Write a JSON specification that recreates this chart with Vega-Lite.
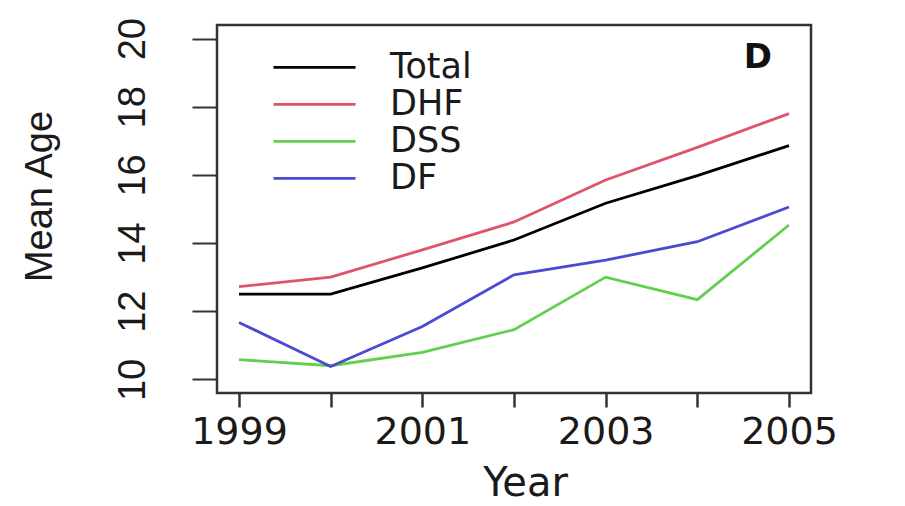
{
  "$schema": "https://vega.github.io/schema/vega-lite/v6.json",
  "width": 594,
  "height": 368,
  "autosize": "none",
  "padding": {"left": 217, "top": 25, "right": 94, "bottom": 113},
  "background": "white",
  "config": {
    "view": {"stroke": "#333333", "strokeWidth": 2.5},
    "font": "DejaVu Sans"
  },
  "datasets": {
    "ages": [
      {"year": 1999, "group": "Total", "age": 12.5},
      {"year": 2000, "group": "Total", "age": 12.5},
      {"year": 2001, "group": "Total", "age": 13.27},
      {"year": 2002, "group": "Total", "age": 14.09},
      {"year": 2003, "group": "Total", "age": 15.17},
      {"year": 2004, "group": "Total", "age": 15.98},
      {"year": 2005, "group": "Total", "age": 16.86},
      {"year": 1999, "group": "DHF", "age": 12.72},
      {"year": 2000, "group": "DHF", "age": 13.0},
      {"year": 2001, "group": "DHF", "age": 13.8},
      {"year": 2002, "group": "DHF", "age": 14.62},
      {"year": 2003, "group": "DHF", "age": 15.85},
      {"year": 2004, "group": "DHF", "age": 16.81},
      {"year": 2005, "group": "DHF", "age": 17.8},
      {"year": 1999, "group": "DSS", "age": 10.58},
      {"year": 2000, "group": "DSS", "age": 10.4},
      {"year": 2001, "group": "DSS", "age": 10.79},
      {"year": 2002, "group": "DSS", "age": 11.46},
      {"year": 2003, "group": "DSS", "age": 13.0},
      {"year": 2004, "group": "DSS", "age": 12.34},
      {"year": 2005, "group": "DSS", "age": 14.53},
      {"year": 1999, "group": "DF", "age": 11.67},
      {"year": 2000, "group": "DF", "age": 10.38},
      {"year": 2001, "group": "DF", "age": 11.55},
      {"year": 2002, "group": "DF", "age": 13.07},
      {"year": 2003, "group": "DF", "age": 13.5},
      {"year": 2004, "group": "DF", "age": 14.04},
      {"year": 2005, "group": "DF", "age": 15.06}
    ],
    "panel": [
      {"year": 2004.66, "age": 19.43, "label": "D"}
    ]
  },
  "layer": [
    {
      "data": {"name": "ages"},
      "mark": {"type": "line", "strokeWidth": 2.8},
      "encoding": {
        "x": {
          "field": "year",
          "type": "quantitative",
          "scale": {"domain": [1998.76, 2005.24], "nice": false, "zero": false},
          "axis": {
            "title": "Year",
            "values": [1999, 2000, 2001, 2002, 2003, 2004, 2005],
            "labelExpr": "datum.value % 2 == 1 ? datum.value : ''",
            "domain": false,
            "grid": false,
            "ticks": true,
            "tickSize": 14,
            "tickWidth": 2.5,
            "tickColor": "#333333",
            "labelFont": "DejaVu Sans",
            "labelFontSize": 38,
            "labelColor": "#1a1a1a",
            "labelPadding": 6,
            "labelDx": 30,
            "labelFlush": false,
            "labelOverlap": false,
            "titleFont": "DejaVu Sans",
            "titleFontSize": 40,
            "titleFontWeight": "normal",
            "titleColor": "#1a1a1a",
            "titleX": 308,
            "titleY": 102,
            "titleBaseline": "alphabetic",
            "titleAlign": "center"
          }
        },
        "y": {
          "field": "age",
          "type": "quantitative",
          "scale": {"domain": [9.6, 20.4], "nice": false, "zero": false},
          "axis": {
            "title": "Mean Age",
            "values": [10, 12, 14, 16, 18, 20],
            "domain": false,
            "grid": false,
            "tickSize": 25,
            "tickWidth": 2,
            "tickColor": "#333333",
            "labelFont": "Liberation Sans",
            "labelFontSize": 38,
            "labelColor": "#1a1a1a",
            "labelAngle": -90,
            "labelAlign": "center",
            "labelBaseline": "middle",
            "labelPadding": 59,
            "labelDx": 10,
            "labelFlush": false,
            "labelOverlap": false,
            "titleFont": "Liberation Sans",
            "titleFontSize": 38,
            "titleFontWeight": "normal",
            "titleColor": "#1a1a1a",
            "titleAngle": -90,
            "titleX": -177,
            "titleY": 171,
            "titleAlign": "center",
            "titleBaseline": "middle"
          }
        },
        "color": {
          "field": "group",
          "type": "nominal",
          "scale": {
            "domain": ["Total", "DHF", "DSS", "DF"],
            "range": ["#000000", "#df536b", "#61d04f", "#4b4bd2"]
          },
          "legend": {
            "title": null,
            "orient": "none",
            "legendX": 55,
            "legendY": 24,
            "padding": 0,
            "symbolType": "stroke",
            "symbolSize": 6724,
            "symbolStrokeWidth": 2.8,
            "labelFont": "DejaVu Sans",
            "labelFontSize": 35,
            "labelColor": "#1a1a1a",
            "labelOffset": 33,
            "rowPadding": 0,
            "clipHeight": 36.7
          }
        }
      }
    },
    {
      "data": {"name": "panel"},
      "mark": {
        "type": "text",
        "font": "DejaVu Sans",
        "fontWeight": "bold",
        "fontSize": 34,
        "align": "center",
        "baseline": "middle",
        "color": "#111111"
      },
      "encoding": {
        "x": {"field": "year", "type": "quantitative"},
        "y": {"field": "age", "type": "quantitative"},
        "text": {"field": "label"}
      }
    }
  ]
}
